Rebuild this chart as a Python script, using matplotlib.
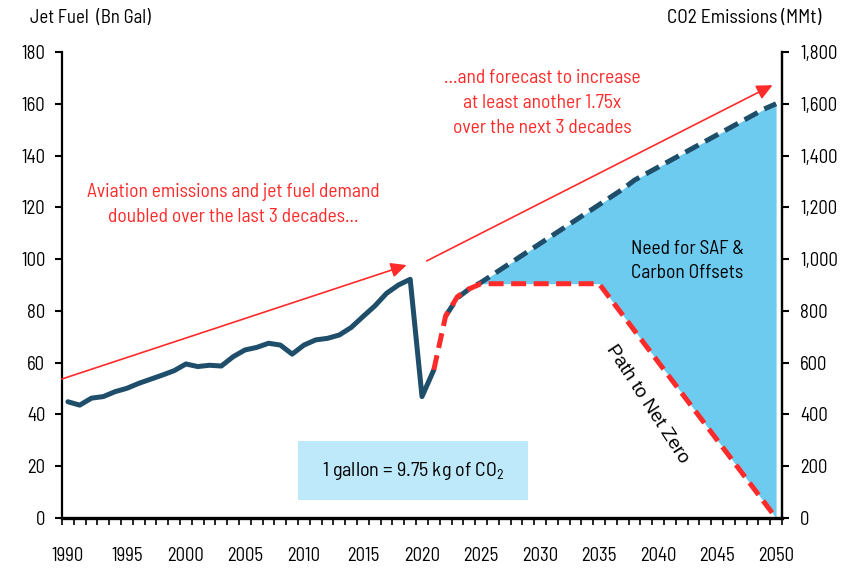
import matplotlib
matplotlib.use("Agg")
import matplotlib.pyplot as plt
from matplotlib import font_manager as fm
from matplotlib.patches import Rectangle
import numpy as np

names = set(f.name for f in fm.fontManager.ttflist)
FONT = next((n for n in ['Barlow Semi Condensed', 'Asap Condensed', 'Archivo Narrow', 'Lato']
             if n in names), 'DejaVu Sans')
plt.rcParams['font.family'] = [FONT, 'DejaVu Sans']
plt.rcParams['mathtext.fontset'] = 'custom'
plt.rcParams['mathtext.rm'] = FONT

# ---------------- data ----------------
hist_years = list(range(1990, 2022))
hist_fuel = [44.9, 43.6, 46.3, 46.9, 48.8, 50.1, 52.0, 53.6, 55.2, 56.9,
             59.5, 58.5, 59.0, 58.7, 62.3, 64.9, 65.9, 67.5, 66.8, 63.3,
             66.8, 68.8, 69.4, 70.7, 73.6, 77.8, 81.9, 86.8, 90.0, 92.2,
             46.9, 57.2]

fc_years = list(range(2022, 2051))
fc_fuel = [78.0, 85.0, 88.5, 91.0, 94.0, 97.0, 100.0, 103.0, 106.0, 109.0,
           112.0, 115.0, 118.0, 121.0, 124.0, 127.0, 130.5, 133.0, 135.5, 138.0,
           140.5, 143.0, 145.5, 148.0, 150.5, 153.0, 155.5, 158.0, 160.0]

nz_years = [2021, 2022, 2023, 2024, 2025, 2035, 2050]
nz_fuel = [57.2, 78.0, 85.5, 88.5, 90.5, 90.5, 0.0]

left_ticks = list(range(0, 181, 20))
right_ticks = list(range(0, 1801, 200))
x_label_years = list(range(1990, 2051, 5))

NAVY = '#1f4e6b'
RED = '#ff2a2a'
FILL = '#6ecbf0'
BOX = '#bee9fb'

fig = plt.figure(figsize=(8.52, 5.70), dpi=100)
ax = fig.add_axes([62/852, 1-518/570, 720/852, 466/570])

nz_interp = np.interp(fc_years, nz_years, nz_fuel)
ax.fill_between(fc_years, nz_interp, fc_fuel, color=FILL, lw=0, zorder=1)
ax.plot(hist_years, hist_fuel, color=NAVY, lw=3.6, solid_capstyle='round',
        solid_joinstyle='round', zorder=4)
ax.plot(fc_years, fc_fuel, color=NAVY, lw=3.6, ls=(0, (3, 1.5)), zorder=3)
ax.plot(nz_years, nz_fuel, color=RED, lw=3.6, ls=(0, (3, 1.5)), zorder=5)

ax.set_xlim(1989.5, 2050.5)
ax.set_ylim(0, 180)
ax.set_yticks(left_ticks)
ax.set_xticks(x_label_years)
ax.set_xticks(np.arange(1989.5, 2051, 1.0), minor=True)
ax.tick_params(axis='x', which='major', length=0, pad=21, labelsize=13.5)
ax.tick_params(axis='x', which='minor', length=5, width=1.2, direction='out')
ax.tick_params(axis='y', length=5, width=1.5, pad=7, labelsize=13.5)
ax.spines['top'].set_visible(False)
for s in ['left', 'right']:
    ax.spines[s].set_linewidth(1.6)
ax.spines['bottom'].set_linewidth(2.4)

ax2 = ax.twinx()
ax2.set_ylim(0, 1800)
ax2.set_yticks(right_ticks)
ax2.set_yticklabels([f'{v:,}' for v in right_ticks])
ax2.tick_params(axis='y', length=5, width=1.5, pad=8, labelsize=13.5)
ax2.spines['top'].set_visible(False)
ax2.spines['right'].set_linewidth(1.6)
ax2.spines['left'].set_visible(False)
ax2.spines['bottom'].set_visible(False)

fig.text(30/852, 1-18/570, 'Jet Fuel  (Bn Gal)', fontsize=13.5, ha='left', va='center')
fig.text(744/852, 1-18/570, 'CO2 Emissions (MMt)', fontsize=14, ha='center', va='center')

# arrows
arrow_style = dict(arrowstyle='-|>,head_length=0.95,head_width=0.45', color=RED, lw=1.2,
                   shrinkA=0, shrinkB=0)
ax.annotate('', xy=(2018.7, 97.7), xytext=(1989.5, 53.7), arrowprops=arrow_style, zorder=6)
ax.annotate('', xy=(2049.7, 167.2), xytext=(2020.4, 99.3), arrowprops=arrow_style, zorder=6)

ax.text(2004.0, 121.0, 'Aviation emissions and jet fuel demand\ndoubled over the last 3 decades...',
        color=RED, fontsize=14, ha='center', va='center', linespacing=1.5)
ax.text(2030.2, 160.3, '...and forecast to increase\nat least another 1.75x\nover the next 3 decades',
        color=RED, fontsize=14, ha='center', va='center', linespacing=1.5)
ax.text(2042.5, 99.3, 'Need for SAF &\nCarbon Offsets', color='black', fontsize=14,
        ha='center', va='center', linespacing=1.45)
ax.text(2039.1, 44.0, 'Path to Net Zero', color='black', fontsize=13.5, ha='center', va='center',
        rotation=-57, rotation_mode='anchor', family=['Liberation Sans', 'DejaVu Sans'])

ax.add_patch(Rectangle((2009.5, 6.95), 19.5, 22.75, fc=BOX, ec='none', zorder=2))
ax.text(2019.25, 18.3, '1 gallon = 9.75 kg of CO$_2$', color='black', fontsize=14.5,
        ha='center', va='center', zorder=3)

fig.savefig('out.png', dpi=100)
